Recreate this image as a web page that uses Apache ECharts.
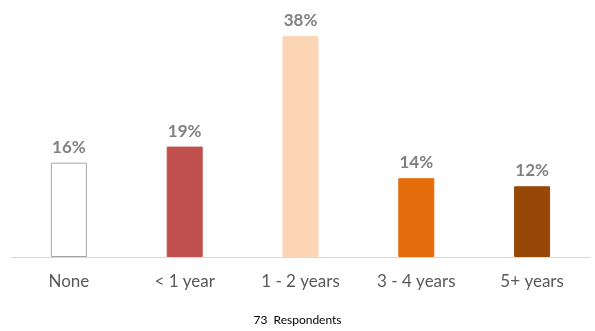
<!DOCTYPE html>
<html><head><meta charset="utf-8">
<script src="https://cdn.jsdelivr.net/npm/echarts@6/dist/echarts.min.js"></script>
<style>html,body{margin:0;padding:0;background:#fff}#c{width:595px;height:331px}</style>
</head><body><div id="c"></div>
<script>
const categories = ['None', '< 1 year', '1 - 2 years', '3 - 4 years', '5+ years'];
const percentValues = [16.4, 19.2, 38.4, 13.7, 12.3];
const barColors = ['#ffffff', '#c0504d', '#fcd5b5', '#e46c0a', '#974806'];
const borderColors = ['#a6a6a6', '#c0504d', '#fcd5b5', '#e46c0a', '#974806'];
const footnote = '73  Respondents';

const chart = echarts.init(document.getElementById('c'), null, {renderer: 'canvas'});
chart.setOption({
  animation: false,
  grid: {left: 11, right: 5, top: 27, bottom: 74},
  xAxis: {
    type: 'category', data: categories,
    axisLine: {lineStyle: {color: '#d9d9d9', width: 1}},
    axisTick: {show: false},
    axisLabel: {color: '#595959', fontFamily: 'Lato', fontSize: 17, margin: 16}
  },
  yAxis: {type: 'value', min: 0, max: 40, show: false, splitLine: {show: false}},
  series: [{
    type: 'bar', barWidth: 36,
    data: percentValues.map((v, i) => ({value: v, itemStyle: {color: barColors[i], borderColor: borderColors[i], borderWidth: 1}})),
    label: {show: true, position: 'top', distance: 7, color: '#808080', fontFamily: 'Lato', fontWeight: 'bold', fontSize: 17,
      formatter: p => Math.round(p.value) + '%'}
  }],
  graphic: [{type: 'text', left: 'center', top: 314, style: {text: footnote, fill: '#000', font: '12px Lato'}}]
});
</script></body></html>
